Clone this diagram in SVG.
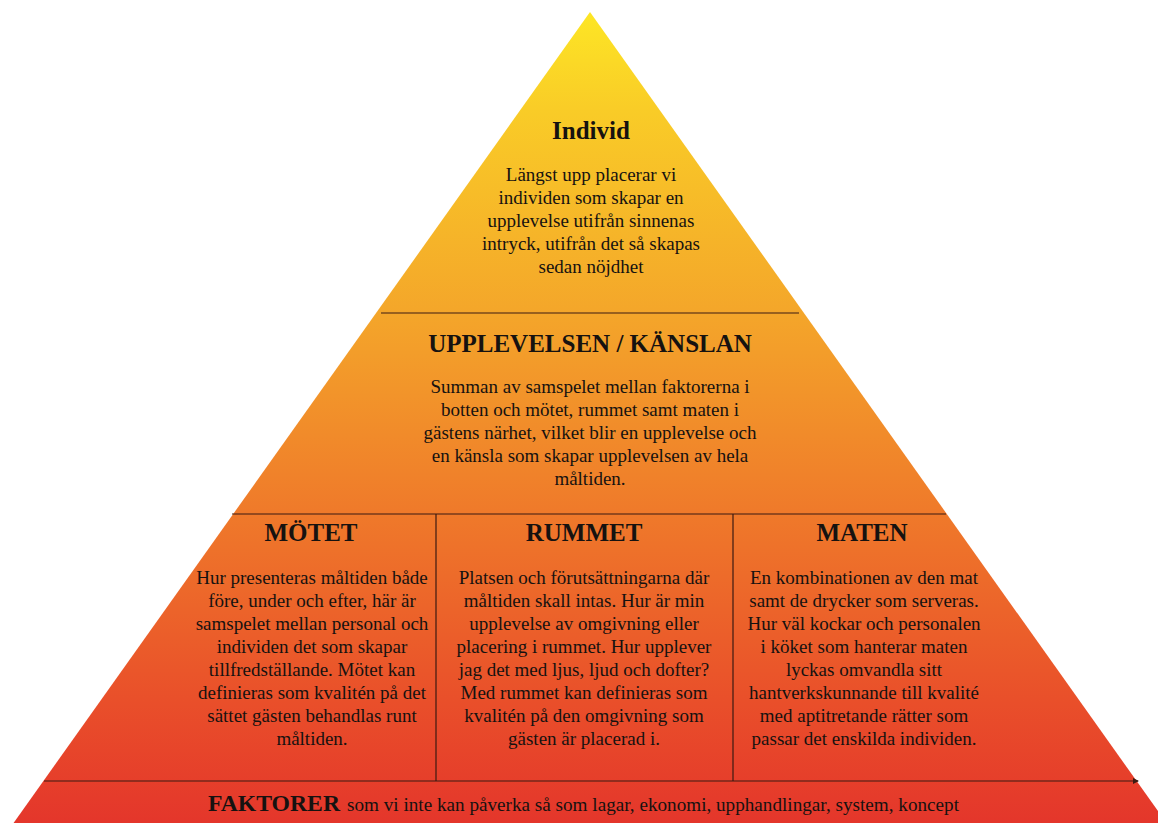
<svg xmlns="http://www.w3.org/2000/svg" width="1158" height="823" viewBox="0 0 1158 823">
<style>
text{font-family:"Liberation Serif","Times New Roman",serif;fill:#161210;text-anchor:middle}
.h{font-weight:bold;font-size:25px}
.b{font-size:19px}
.ln{stroke:#3b1a12;stroke-width:1.2;fill:none}
</style>
<defs>
<linearGradient id="g" gradientUnits="userSpaceOnUse" x1="0" y1="12" x2="0" y2="823">
<stop offset="0" stop-color="#fde625"/>
<stop offset="0.12" stop-color="#f9cc27"/>
<stop offset="0.37" stop-color="#f4a62a"/>
<stop offset="0.62" stop-color="#ef792a"/>
<stop offset="0.85" stop-color="#e94f2a"/>
<stop offset="1" stop-color="#e4362b"/>
</linearGradient>
<marker id="arr" viewBox="0 0 6 6" refX="5" refY="3" markerWidth="5" markerHeight="5" orient="auto">
<path d="M0,0 L6,3 L0,6 z" fill="#3b1a12"/>
</marker>
</defs>
<rect width="1158" height="823" fill="#fff"/>
<polygon points="590,12 1170,828 10,828" fill="url(#g)"/>
<g id="connectors">
<line class="ln" x1="381" y1="313" x2="799" y2="313"/>
<line class="ln" x1="232" y1="514" x2="946" y2="514"/>
<line class="ln" x1="44" y1="781" x2="1138" y2="781" marker-end="url(#arr)"/>
<line class="ln" x1="436" y1="514" x2="436" y2="781"/>
<line class="ln" x1="733" y1="514" x2="733" y2="781"/>
</g>
<g id="individ">
<text class="h" x="591" y="139">Individ</text>
<text class="b" x="591" y="181">Längst upp placerar vi</text>
<text class="b" x="591" y="204">individen som skapar en</text>
<text class="b" x="591" y="227">upplevelse utifrån sinnenas</text>
<text class="b" x="591" y="250">intryck, utifrån det så skapas</text>
<text class="b" x="591" y="273">sedan nöjdhet</text>
</g>
<g id="upplevelsen">
<text class="h" x="590" y="352">UPPLEVELSEN / KÄNSLAN</text>
<text class="b" x="590" y="393">Summan av samspelet mellan faktorerna i</text>
<text class="b" x="590" y="416">botten och mötet, rummet samt maten i</text>
<text class="b" x="590" y="439">gästens närhet, vilket blir en upplevelse och</text>
<text class="b" x="590" y="462">en känsla som skapar upplevelsen av hela</text>
<text class="b" x="590" y="485">måltiden.</text>
</g>
<g id="motet">
<text class="h" x="311" y="541">MÖTET</text>
<text class="b" x="312" y="584">Hur presenteras måltiden både</text>
<text class="b" x="312" y="607">före, under och efter, här är</text>
<text class="b" x="312" y="630">samspelet mellan personal och</text>
<text class="b" x="312" y="653">individen det som skapar</text>
<text class="b" x="312" y="676">tillfredställande. Mötet kan</text>
<text class="b" x="312" y="699">definieras som kvalitén på det</text>
<text class="b" x="312" y="722">sättet gästen behandlas runt</text>
<text class="b" x="312" y="745">måltiden.</text>
</g>
<g id="rummet">
<text class="h" x="584" y="541">RUMMET</text>
<text class="b" x="584" y="584">Platsen och förutsättningarna där</text>
<text class="b" x="584" y="607">måltiden skall intas. Hur är min</text>
<text class="b" x="584" y="630">upplevelse av omgivning eller</text>
<text class="b" x="584" y="653">placering i rummet. Hur upplever</text>
<text class="b" x="584" y="676">jag det med ljus, ljud och dofter?</text>
<text class="b" x="584" y="699">Med rummet kan definieras som</text>
<text class="b" x="584" y="722">kvalitén på den omgivning som</text>
<text class="b" x="584" y="745">gästen är placerad i.</text>
</g>
<g id="maten">
<text class="h" x="862" y="541">MATEN</text>
<text class="b" x="864" y="584">En kombinationen av den mat</text>
<text class="b" x="864" y="607">samt de drycker som serveras.</text>
<text class="b" x="864" y="630">Hur väl kockar och personalen</text>
<text class="b" x="864" y="653">i köket som hanterar maten</text>
<text class="b" x="864" y="676">lyckas omvandla sitt</text>
<text class="b" x="864" y="699">hantverkskunnande till kvalité</text>
<text class="b" x="864" y="722">med aptitretande rätter som</text>
<text class="b" x="864" y="745">passar det enskilda individen.</text>
</g>
<g id="faktorer">
<text x="208" y="811" style="text-anchor:start;font-weight:bold;font-size:23px" textLength="132" lengthAdjust="spacingAndGlyphs">FAKTORER</text>
<text x="347" y="811" style="text-anchor:start;font-size:18px" textLength="612" lengthAdjust="spacingAndGlyphs">som vi inte kan påverka så som lagar, ekonomi, upphandlingar, system, koncept</text>
</g>
</svg>
